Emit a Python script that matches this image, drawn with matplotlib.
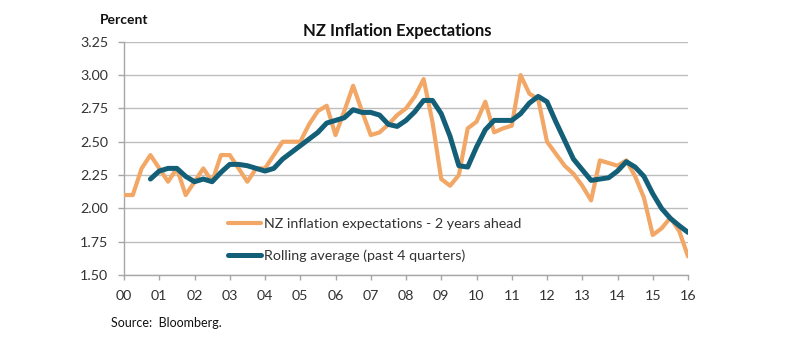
import numpy as np
import matplotlib
matplotlib.use("Agg")
import matplotlib.pyplot as plt

plt.rcParams['font.family'] = ['Lato', 'DejaVu Sans']

# Quarterly time axis, in years since 2000
quarters = np.arange(0, 16.01, 0.25)

expect_2y = [2.10, 2.10, 2.30, 2.40, 2.30, 2.20, 2.30, 2.10, 2.20, 2.30,
             2.20, 2.40, 2.40, 2.30, 2.20, 2.30, 2.30, 2.40, 2.50, 2.50,
             2.50, 2.63, 2.73, 2.77, 2.55, 2.73, 2.92, 2.73, 2.55, 2.57,
             2.63, 2.70, 2.75, 2.84, 2.97, 2.65, 2.22, 2.17, 2.25, 2.60,
             2.65, 2.80, 2.57, 2.60, 2.62, 3.00, 2.86, 2.82, 2.50, 2.41,
             2.32, 2.26, 2.17, 2.06, 2.36, 2.34, 2.32, 2.36, 2.24, 2.08,
             1.80, 1.85, 1.93, 1.83, 1.64]

rolling_avg = [2.22, 2.28, 2.30, 2.30, 2.24, 2.20, 2.22, 2.20, 2.27, 2.33,
               2.33, 2.32, 2.30, 2.28, 2.30, 2.37, 2.42, 2.47, 2.52, 2.57,
               2.64, 2.66, 2.68, 2.74, 2.72, 2.72, 2.70, 2.63, 2.615, 2.66,
               2.725, 2.81, 2.81, 2.71, 2.54, 2.32, 2.31, 2.46, 2.59, 2.66,
               2.66, 2.66, 2.71, 2.79, 2.84, 2.80, 2.65, 2.51, 2.37, 2.29,
               2.21, 2.22, 2.23, 2.28, 2.35, 2.31, 2.24, 2.11, 2.00, 1.925,
               1.87, 1.82]

year_ticks = list(range(0, 17))
year_labels = ["00", "01", "02", "03", "04", "05", "06", "07", "08", "09",
               "10", "11", "12", "13", "14", "15", "16"]
y_ticks = [1.50, 1.75, 2.00, 2.25, 2.50, 2.75, 3.00, 3.25]

title = "NZ Inflation Expectations"
series_names = ["NZ inflation expectations - 2 years ahead",
                "Rolling average (past 4 quarters)"]

ORANGE = "#F2A766"
BLUE = "#135F78"
TXT = "#333333"
GRID = "#BDBDBD"
SPINE = "#A6A6A6"

fig = plt.figure(figsize=(8.0, 3.51), dpi=100)
ax = fig.add_axes([0.155, 0.2165, 0.705, 0.6645])

l1, = ax.plot(quarters, expect_2y, color=ORANGE, lw=3.0,
              solid_joinstyle='round', solid_capstyle='round', zorder=3)
l2, = ax.plot(quarters[3:], rolling_avg, color=BLUE, lw=3.6,
              solid_joinstyle='round', solid_capstyle='round', zorder=4)

ax.set_xlim(0, 16)
ax.set_ylim(1.50, 3.25)
ax.set_yticks(y_ticks)
ax.set_yticklabels([f"{v:.2f}" for v in y_ticks])
ax.set_xticks(year_ticks)
ax.set_xticklabels(year_labels)

ax.grid(axis='y', color=GRID, lw=1.0, zorder=0)
ax.set_axisbelow(True)
for s in ['top', 'right']:
    ax.spines[s].set_visible(False)
for s in ['left', 'bottom']:
    ax.spines[s].set_color(SPINE)
    ax.spines[s].set_linewidth(1.0)
ax.spines['bottom'].set_zorder(5)

ax.tick_params(axis='y', direction='out', length=4.5, width=1.0, color=SPINE,
               pad=7, labelsize=10.3, labelcolor=TXT)
ax.tick_params(axis='x', direction='out', length=3.5, width=1.0, color=SPINE,
               pad=7, labelsize=10.3, labelcolor=TXT)

for lab in ax.get_xticklabels() + ax.get_yticklabels():
    lab.set_clip_on(False)

fig.text(0.125, 0.942, "Percent", fontsize=10, fontweight='bold',
         color='#111111', ha='left', va='center')
fig.text(0.497, 0.912, title, fontsize=12, fontweight='bold',
         color='#111111', ha='center', va='center')
fig.text(0.139, 0.08, "Source:  Bloomberg.", fontsize=9, color='#111111',
         ha='left', va='center')

leg = ax.legend([l1, l2], series_names, loc='upper left',
                bbox_to_anchor=(0.285, 0.378), bbox_transform=fig.transFigure,
                frameon=False, fontsize=10.3, handlelength=2.3,
                handletextpad=0.2, labelspacing=1.33, borderaxespad=0,
                borderpad=0)
for t in leg.get_texts():
    t.set_color(TXT)

fig.savefig("out.png", dpi=100, facecolor='white')
